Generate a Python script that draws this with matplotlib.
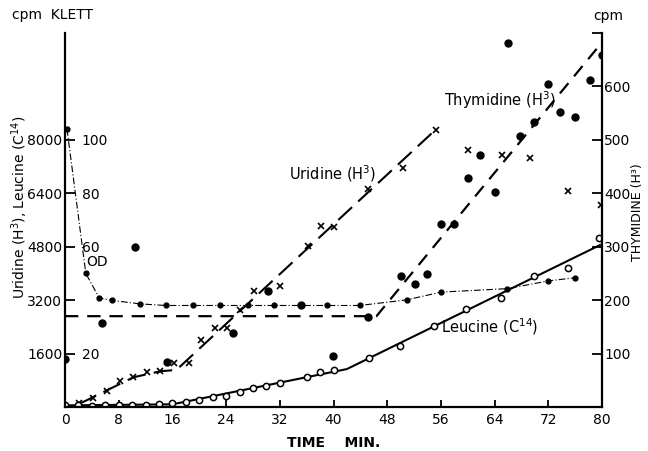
import matplotlib
matplotlib.use("Agg")
import matplotlib.pyplot as plt

# Uridine (H3), cpm on left axis
uridine_t = [2.1, 4.1, 6.2, 8.2, 10.2, 12.2, 14.2, 16.3, 18.4, 20.2, 22.3, 24.1, 26.1,
             28.2, 32.1, 36.2, 38.2, 40.0, 45.2, 50.3, 55.2, 60.1, 65.1, 69.3, 75.0, 79.8]
uridine_cpm = [120, 270, 490, 770, 890, 1040, 1070, 1310, 1310, 2020, 2360, 2360, 2890,
               3470, 3630, 4810, 5410, 5390, 6540, 7170, 8300, 7710, 7540, 7470, 6480, 6060]
uridine_fit_t = [2.1, 10.2, 14.2, 16.6, 55.3]
uridine_fit_cpm = [90, 890, 1070, 1110, 8320]

# Leucine (C14), cpm on left axis
leucine_t = [0, 2, 4, 6, 8, 10, 12, 14, 16, 18, 20, 22, 24, 26, 28, 30, 32, 36, 38, 40,
             45.3, 49.9, 54.9, 59.7, 64.9, 69.9, 74.9, 79.6]
leucine_cpm = [64, 56, 32, 60, 60, 60, 60, 100, 120, 150, 200, 310, 340, 460, 560, 640, 720,
               910, 1040, 1120, 1470, 1840, 2430, 2940, 3260, 3920, 4160, 5060]
leucine_fit_t = [0, 16, 42, 79.7]
leucine_fit_cpm = [48, 80, 1136, 4850]

# Thymidine (H3), cpm on right axis
thymidine_t = [0, 5.5, 10.4, 15.2, 25.0, 30.3, 35.2, 40.0, 45.2, 50.1, 52.1, 53.9, 56.0,
               57.9, 60.1, 61.8, 64.0, 66.0, 67.8, 69.8, 72.0, 73.7, 76.0, 78.2, 80.0]
thymidine_cpm = [90, 158, 300, 85, 138, 218, 191, 95, 168, 246, 231, 248, 342, 343, 429,
                 471, 403, 682, 507, 533, 605, 552, 542, 612, 659]
thymidine_fit_t = [0, 46.4, 80.1]
thymidine_fit_cpm = [170, 170, 684]

# optical density, Klett units
od_t = [0.3, 3.1, 5.1, 7.0, 11.2, 15.0, 19.1, 23.1, 27.2, 31.1, 35.1, 39.0, 43.9, 50.9,
        56.0, 65.9, 72.0, 76.0]
od_klett = [104, 50, 40.8, 39.9, 38.6, 38.0, 38.0, 38.0, 38.0, 38.0, 38.0, 38.0, 38.0,
            40.1, 43.0, 44.3, 47.2, 48.4]

time_ticks = list(range(0, 81, 8))
left_ticks = [1600, 3200, 4800, 6400, 8000]
klett_ticks = [20, 40, 60, 80, 100]
klett_labels = ['20', '', '60', '80', '100']
right_ticks = [100, 200, 300, 400, 500, 600, 700]
right_labels = ['100', '200', '300', '400', '500', '600', '']

plt.rcParams['font.family'] = ['DejaVu Sans']
plt.rcParams['font.size'] = 10

fig = plt.figure(figsize=(6.48, 4.51), dpi=100)
ax = fig.add_axes([65 / 648, 44 / 451, 537 / 648, 374 / 451])
ax2 = ax.twinx()
ax3 = ax.twinx()

ax.set_xlim(0, 80)
ax.set_ylim(0, 11200)
ax2.set_ylim(0, 700)
ax3.set_ylim(0, 140)

# left axis data
ax.plot(uridine_fit_t, uridine_fit_cpm, color='black', lw=1.5, dashes=(9, 4))
ax.plot(uridine_t, uridine_cpm, 'x', color='black', ms=5, mew=1.2)
ax.plot(leucine_fit_t, leucine_fit_cpm, color='black', lw=1.5)
ax.plot(leucine_t, leucine_cpm, 'o', color='black', mfc='white', ms=4.5, mew=1.1)

# right axis data
ax2.plot(thymidine_fit_t, thymidine_fit_cpm, color='black', lw=1.6, dashes=(6, 4))
ax2.plot(thymidine_t, thymidine_cpm, 'o', color='black', ms=5)

# Klett
ax3.plot(od_t, od_klett, color='black', lw=0.8, dashes=(6, 2, 1, 2))
ax3.plot(od_t, od_klett, 'o', color='black', ms=3.5)

# spines
for s in ['top', 'right']:
    ax.spines[s].set_visible(False)
for s in ['top', 'left', 'bottom']:
    ax2.spines[s].set_visible(False)
for s in ax3.spines.values():
    s.set_visible(False)
ax.spines['left'].set_linewidth(1.6)
ax.spines['bottom'].set_linewidth(1.6)
ax2.spines['right'].set_linewidth(1.6)

# ticks
ax.set_xticks(time_ticks)
ax.tick_params(axis='x', direction='in', length=5, width=1.3, pad=4, labelsize=10)
ax.set_yticks(left_ticks)
ax.tick_params(axis='y', direction='in', length=7, width=1.3, pad=2, labelsize=10)

ax2.set_yticks(right_ticks)
ax2.set_yticklabels(right_labels)
ax2.tick_params(axis='y', direction='in', length=7, width=1.3, pad=1.5, labelsize=10)

ax3.yaxis.tick_left()
ax3.set_yticks(klett_ticks)
ax3.set_yticklabels(klett_labels)
ax3.tick_params(axis='y', length=0, pad=-12, labelsize=10)
for lab in ax3.get_yticklabels():
    lab.set_horizontalalignment('left')

# labels
ax.set_xlabel('TIME    MIN.', fontweight='bold', fontsize=10, labelpad=7)
fig.text(20 / 648, 1 - 207 / 451, 'Uridine (H$^3$), Leucine (C$^{14}$)', rotation=90,
         ha='center', va='center', fontsize=10)
fig.text(638 / 648, 1 - 212 / 451, 'THYMIDINE (H³)', rotation=90,
         ha='center', va='center', fontsize=9)
fig.text(12 / 648, 1 - 15 / 451, 'cpm  KLETT', ha='left', va='center', fontsize=10)
fig.text(608 / 648, 1 - 16 / 451, 'cpm', ha='center', va='center', fontsize=10)

ax2.text(39.8, 437, 'Uridine (H$^3$)', ha='center', va='center', fontsize=10.5)
ax2.text(64.8, 574, 'Thymidine (H$^3$)', ha='center', va='center', fontsize=10.5)
ax2.text(63.2, 150, 'Leucine (C$^{14}$)', ha='center', va='center', fontsize=10.5)
ax2.text(3.2, 271, 'OD', ha='left', va='center', fontsize=10)

plt.savefig('out.png', dpi=100)
